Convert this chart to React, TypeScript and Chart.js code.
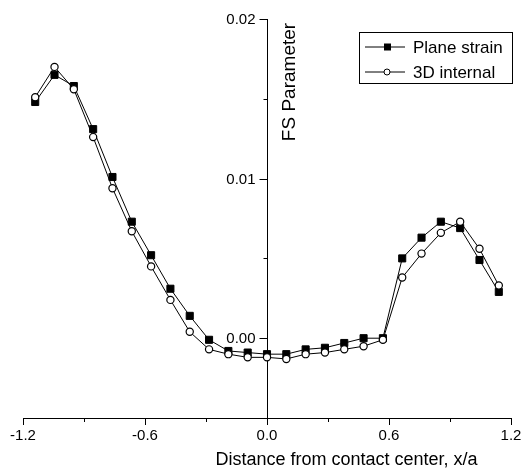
import React, { useEffect, useRef } from "react";
import { Chart, registerables } from "chart.js";

Chart.register(...registerables);

// Distance from contact center, x/a
const xValues = [
  -1.14, -1.045, -0.95, -0.855, -0.76, -0.665, -0.57, -0.475, -0.38, -0.285, -0.19, -0.095,
  0, 0.095, 0.19, 0.285, 0.38, 0.475, 0.57, 0.665, 0.76, 0.855, 0.95, 1.045, 1.14,
];
// FS Parameter, plane strain
const planeStrain = [
  0.0148, 0.0165, 0.0158, 0.0131, 0.0101, 0.0073, 0.0052, 0.0031, 0.0014, -0.0001, -0.0008, -0.0009,
  -0.001, -0.001, -0.0007, -0.0006, -0.0003, 0.0, 0.0, 0.005, 0.0063, 0.0073, 0.0069, 0.0049, 0.0029,
];
// FS Parameter, 3D internal
const internal3D = [
  0.0151, 0.017, 0.0156, 0.0126, 0.0094, 0.0067, 0.0045, 0.0024, 0.0004, -0.0007, -0.001, -0.0012,
  -0.0012, -0.0013, -0.001, -0.0009, -0.0007, -0.0005, -0.0001, 0.0038, 0.0053, 0.0066, 0.0073, 0.0056, 0.0033,
];

const seriesLabels = ["Plane strain", "3D internal"];
const xTicks = [-1.2, -0.6, 0, 0.6, 1.2];
const xMinorTicks = [-0.9, -0.3, 0.3, 0.9];
const yTicks = [0, 0.01, 0.02];
const yMinorTicks = [0.005, 0.015];
const xTitle = "Distance from contact center, x/a";
const yTitle = "FS Parameter";

const FONT = "'Liberation Sans', Arial, sans-serif";

const decorations = {
  id: "decorations",
  afterDraw(chart: any) {
    const { ctx, chartArea } = chart;
    const xs = chart.scales.x;
    const ys = chart.scales.y;
    const axisX = Math.round(xs.getPixelForValue(0)) + 0.5;
    ctx.save();
    ctx.strokeStyle = "#000";
    ctx.lineWidth = 1;
    // minor ticks
    ctx.beginPath();
    xMinorTicks.forEach((v) => {
      const px = Math.round(xs.getPixelForValue(v)) + 0.5;
      ctx.moveTo(px, chartArea.bottom);
      ctx.lineTo(px, chartArea.bottom + 4);
    });
    yMinorTicks.forEach((v) => {
      const py = Math.round(ys.getPixelForValue(v)) + 0.5;
      ctx.moveTo(axisX, py);
      ctx.lineTo(axisX - 4, py);
    });
    // major y ticks (left of the centre axis)
    yTicks.forEach((v) => {
      const py = Math.round(ys.getPixelForValue(v)) + 0.5;
      ctx.moveTo(axisX, py);
      ctx.lineTo(axisX - 8, py);
    });
    ctx.stroke();

    // y tick labels
    ctx.fillStyle = "#000";
    ctx.font = `15px ${FONT}`;
    ctx.textAlign = "right";
    ctx.textBaseline = "middle";
    yTicks.forEach((v) => {
      ctx.fillText(v.toFixed(2), axisX - 12, ys.getPixelForValue(v) + 1);
    });

    // y title (rotated, right of the axis)
    ctx.save();
    ctx.translate(axisX + 27, chartArea.top + 63);
    ctx.rotate(-Math.PI / 2);
    ctx.font = `19px ${FONT}`;
    ctx.textAlign = "center";
    ctx.textBaseline = "alphabetic";
    ctx.fillText(yTitle, 0, 0);
    ctx.restore();

    // x title
    ctx.font = `18px ${FONT}`;
    ctx.textAlign = "center";
    ctx.textBaseline = "alphabetic";
    ctx.fillText(xTitle, chartArea.left + (chartArea.right - chartArea.left) * 0.663, chartArea.bottom + 47);

    // legend
    const bx = chartArea.right - 152;
    const by = chartArea.top + 13;
    ctx.lineWidth = 1;
    ctx.strokeRect(Math.round(bx) + 0.5, Math.round(by) + 0.5, 153, 51);
    ctx.font = `17px ${FONT}`;
    ctx.textAlign = "left";
    ctx.textBaseline = "middle";
    seriesLabels.forEach((label, i) => {
      const ry = by + 15 + i * 25;
      ctx.beginPath();
      ctx.moveTo(bx + 6, ry);
      ctx.lineTo(bx + 46, ry);
      ctx.stroke();
      if (i === 0) {
        ctx.fillStyle = "#000";
        ctx.fillRect(bx + 25, ry - 3.5, 7, 7);
      } else {
        ctx.beginPath();
        ctx.arc(bx + 28, ry, 3, 0, Math.PI * 2);
        ctx.fillStyle = "#fff";
        ctx.fill();
        ctx.stroke();
      }
      ctx.fillStyle = "#000";
      ctx.fillText(label, bx + 54, ry + 1);
    });
    ctx.restore();
  },
};

export default function App() {
  const canvasRef = useRef<HTMLCanvasElement | null>(null);

  useEffect(() => {
    if (!canvasRef.current) return;
    const chart = new Chart(canvasRef.current, {
      type: "scatter",
      data: {
        datasets: [
          {
            label: seriesLabels[0],
            data: xValues.map((x, i) => ({ x, y: planeStrain[i] })),
            showLine: true,
            borderColor: "#000",
            backgroundColor: "#000",
            borderWidth: 1,
            pointStyle: "rect",
            pointRadius: 5,
            pointBorderWidth: 1,
            pointBackgroundColor: "#000",
            pointBorderColor: "#000",
            tension: 0,
            order: 1,
          },
          {
            label: seriesLabels[1],
            data: xValues.map((x, i) => ({ x, y: internal3D[i] })),
            showLine: true,
            borderColor: "#000",
            backgroundColor: "#fff",
            borderWidth: 1,
            pointStyle: "circle",
            pointRadius: 3.6,
            pointBorderWidth: 1.2,
            pointBackgroundColor: "#fff",
            pointBorderColor: "#000",
            tension: 0,
            order: 0,
          },
        ],
      },
      options: {
        animation: false,
        responsive: false,
        devicePixelRatio: 1,
        layout: { padding: { left: 23, right: 19, top: 19, bottom: 0 } },
        plugins: { legend: { display: false }, tooltip: { enabled: false }, title: { display: false } },
        scales: {
          x: {
            type: "linear",
            position: "bottom",
            min: -1.2,
            max: 1.2,
            afterBuildTicks: (scale: any) => {
              scale.ticks = xTicks.map((v) => ({ value: v }));
            },
            afterFit: (scale: any) => {
              scale.height = 56;
            },
            grid: { drawOnChartArea: false, drawTicks: true, tickLength: 7, color: "#000", tickColor: "#000" },
            border: { display: true, color: "#000", width: 1 },
            ticks: {
              autoSkip: false,
              maxRotation: 0,
              padding: 2,
              color: "#000",
              font: { family: FONT, size: 15 },
              callback: (v: any) => Number(v).toFixed(1),
            },
          },
          y: {
            type: "linear",
            position: { x: 0 } as any,
            min: -0.005,
            max: 0.02,
            afterBuildTicks: (scale: any) => {
              scale.ticks = yTicks.map((v) => ({ value: v }));
            },
            grid: { display: false, drawOnChartArea: false, drawTicks: false },
            border: { display: true, color: "#000", width: 1 },
            ticks: { display: false },
          },
        },
      },
      plugins: [decorations],
    });
    return () => chart.destroy();
  }, []);

  return (
    <div style={{ position: "absolute", left: 0, top: 0, width: 530, height: 474, background: "#fff" }}>
      <canvas ref={canvasRef} width={530} height={474} style={{ display: "block" }} />
    </div>
  );
}
